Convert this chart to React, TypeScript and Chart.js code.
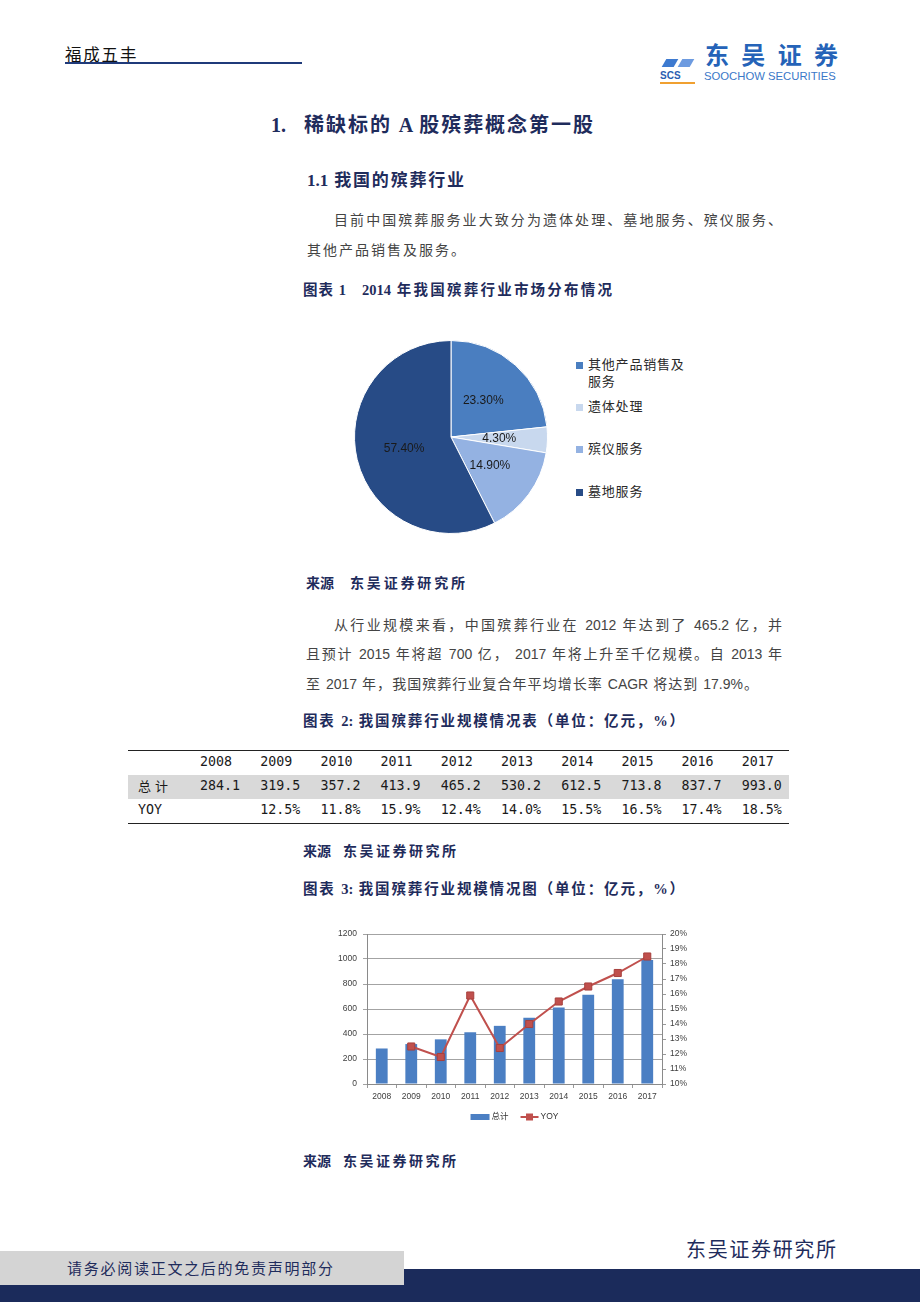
import React, { useEffect, useRef } from "react";
import { Chart, registerables } from "chart.js";

Chart.register(...registerables);

// ---------------- Data ----------------
const pieLabels = ["其他产品销售及服务", "遗体处理", "殡仪服务", "墓地服务"];
const pieLegendLines = [["其他产品销售及", "服务"], ["遗体处理"], ["殡仪服务"], ["墓地服务"]];
const pieValues = [23.3, 4.3, 14.9, 57.4];
const pieColors = ["#4a7ec0", "#c8d8ee", "#94b2e2", "#274b86"];

const years = ["2008", "2009", "2010", "2011", "2012", "2013", "2014", "2015", "2016", "2017"];
const totals = [284.1, 319.5, 357.2, 413.9, 465.2, 530.2, 612.5, 713.8, 837.7, 993.0];
const yoy: (number | null)[] = [null, 12.5, 11.8, 15.9, 12.4, 14.0, 15.5, 16.5, 17.4, 18.5];

const leftTicksMax = 1200;
const leftTicksStep = 200;
const rightMin = 10;
const rightMax = 20;

const barColor = "#4b7fc3";
const lineColor = "#c0504d";

// ---------------- Styles ----------------
const NAVY = "#1f2c5c";
const BODY = '"Liberation Sans", "Noto Sans CJK SC", sans-serif';
const SERIF = '"Liberation Serif", "Noto Sans CJK SC", serif';
const CJK = '"Noto Sans CJK SC", sans-serif';
const MONO = '"DejaVu Sans Mono", "Noto Sans CJK SC", monospace';

type TP = {
  x: number; y: number; w?: number; s: number; t: string;
  b?: boolean; c?: string; f?: string; ls?: number; j?: boolean;
};
function Txt({ x, y, w, s, t, b, c, f, ls, j }: TP) {
  const L = Math.round(s * 1.5);
  return (
    <div
      style={{
        position: "absolute",
        left: x,
        top: y - L / 2 - s * 0.05,
        width: w ?? "auto",
        height: L,
        lineHeight: L + "px",
        fontSize: s,
        fontWeight: b ? 700 : 400,
        color: c ?? "#404040",
        fontFamily: f ?? BODY,
        letterSpacing: ls ?? 0,
        textAlign: j ? "justify" : "left",
        textAlignLast: j ? "justify" : "auto",
        whiteSpace: j ? "normal" : "nowrap",
      } as React.CSSProperties}
    >
      {t}
    </div>
  );
}

function Rect({ x, y, w, h, c }: { x: number; y: number; w: number; h: number; c: string }) {
  return <div style={{ position: "absolute", left: x, top: y, width: w, height: h, background: c }} />;
}

// ---------------- Pie chart ----------------
function PieChart() {
  const ref = useRef<HTMLCanvasElement>(null);
  useEffect(() => {
    const labelPlugin = {
      id: "pieLabels",
      afterDatasetsDraw(chart: any) {
        const ctx = chart.ctx;
        const meta = chart.getDatasetMeta(0);
        ctx.save();
        ctx.font = '12px "Liberation Sans", Arial, sans-serif';
        ctx.fillStyle = "#1a1a1a";
        ctx.textAlign = "center";
        ctx.textBaseline = "middle";
        meta.data.forEach((arc: any, i: number) => {
          const p = arc.tooltipPosition(false);
          const v = chart.data.datasets[0].data[i] as number;
          ctx.fillText(v.toFixed(2) + "%", p.x, p.y);
        });
        ctx.restore();
      },
    };
    const chart = new Chart(ref.current as HTMLCanvasElement, {
      type: "pie",
      data: {
        labels: pieLabels,
        datasets: [
          {
            data: pieValues,
            backgroundColor: pieColors,
            borderColor: "#ffffff",
            borderWidth: 1,
          },
        ],
      },
      options: {
        responsive: false,
        animation: false,
        events: [],
        layout: { padding: 3 },
        plugins: { legend: { display: false }, tooltip: { enabled: false } },
      },
      plugins: [labelPlugin],
    } as any);
    return () => chart.destroy();
  }, []);
  return (
    <canvas
      ref={ref}
      width={200}
      height={200}
      style={{ position: "absolute", left: 351, top: 337, width: 200, height: 200 }}
    />
  );
}

function PieLegend() {
  const itemY = [365, 407, 449, 492];
  return (
    <>
      {pieLegendLines.map((lines, i) => (
        <React.Fragment key={i}>
          <Rect x={576} y={itemY[i] - 3.5} w={7} h={7} c={pieColors[i]} />
          {lines.map((ln, k) => (
            <Txt key={k} x={588} y={itemY[i] + k * 17} s={13} ls={0.8} t={ln} f={CJK} c="#2a2a2a" />
          ))}
        </React.Fragment>
      ))}
    </>
  );
}

// ---------------- Bar + line chart ----------------
function ComboChart() {
  const ref = useRef<HTMLCanvasElement>(null);
  useEffect(() => {
    const legendPlugin = {
      id: "customLegend",
      afterDraw(chart: any) {
        const { ctx, chartArea } = chart;
        const cy = chartArea.bottom + 33;
        const cx = (chartArea.left + chartArea.right) / 2;
        const lineDs = chart.data.datasets[0];
        const barDs = chart.data.datasets[1];
        ctx.save();
        ctx.font = '8.5px "Liberation Sans", "Noto Sans CJK SC", sans-serif';
        const t1 = barDs.label as string;
        const t2 = lineDs.label as string;
        const w1 = ctx.measureText(t1).width;
        const w2 = ctx.measureText(t2).width;
        const sw = 19, lw = 18, gap = 2, between = 12;
        const total = sw + gap + w1 + between + lw + gap + w2;
        let x = cx - total / 2;
        ctx.fillStyle = barColor;
        ctx.fillRect(x, cy - 3, sw, 6);
        x += sw + gap;
        ctx.fillStyle = "#333";
        ctx.textBaseline = "middle";
        ctx.textAlign = "left";
        ctx.fillText(t1, x, cy);
        x += w1 + between;
        ctx.strokeStyle = lineColor;
        ctx.lineWidth = 2;
        ctx.beginPath();
        ctx.moveTo(x, cy);
        ctx.lineTo(x + lw, cy);
        ctx.stroke();
        ctx.fillStyle = lineColor;
        ctx.fillRect(x + lw / 2 - 3.5, cy - 3.5, 7, 7);
        x += lw + gap;
        ctx.fillStyle = "#333";
        ctx.fillText(t2, x, cy);
        ctx.restore();
      },
    };
    const tickFont = { family: '"Liberation Sans", Arial, sans-serif', size: 8.5 };
    const chart = new Chart(ref.current as HTMLCanvasElement, {
      type: "bar",
      data: {
        labels: years,
        datasets: [
          {
            type: "line",
            label: "YOY",
            data: yoy,
            yAxisID: "y1",
            borderColor: lineColor,
            borderWidth: 2,
            pointStyle: "rect",
            pointRadius: 5,
            pointBackgroundColor: lineColor,
            pointBorderColor: "#a8403d",
            pointBorderWidth: 1,
            order: 0,
          },
          {
            type: "bar",
            label: "总计",
            data: totals,
            yAxisID: "y",
            backgroundColor: barColor,
            barPercentage: 0.4,
            categoryPercentage: 1,
            order: 1,
          },
        ],
      },
      options: {
        responsive: false,
        animation: false,
        events: [],
        layout: { padding: { top: 14, bottom: 24, left: 0, right: 0 } },
        plugins: { legend: { display: false }, tooltip: { enabled: false } },
        scales: {
          x: {
            grid: { drawOnChartArea: false, tickLength: 4, color: "#999", offset: true },
            border: { color: "#8a8a8a" },
            ticks: { font: tickFont, color: "#404040", padding: 4, maxRotation: 0 },
            afterFit: (s: any) => { s.height = 22; },
          },
          y: {
            position: "left",
            min: 0,
            max: leftTicksMax,
            ticks: {
              stepSize: leftTicksStep,
              font: tickFont,
              color: "#404040",
              padding: 6,
              callback: (v: any) => String(v),
            },
            grid: { color: "#a3a3a3", tickLength: 4 },
            border: { color: "#8a8a8a" },
            afterFit: (s: any) => { s.width = 47; },
          },
          y1: {
            position: "right",
            min: rightMin,
            max: rightMax,
            ticks: {
              stepSize: 1,
              font: tickFont,
              color: "#404040",
              padding: 4,
              callback: (v: any) => v + "%",
            },
            grid: { drawOnChartArea: false, tickLength: 4, color: "#999" },
            border: { color: "#8a8a8a" },
            afterFit: (s: any) => { s.width = 38; },
          },
        },
      },
      plugins: [legendPlugin],
    } as any);
    return () => chart.destroy();
  }, []);
  return (
    <canvas
      ref={ref}
      width={380}
      height={210}
      style={{ position: "absolute", left: 320, top: 920, width: 380, height: 210 }}
    />
  );
}

// ---------------- Table ----------------
function DataTable() {
  const colX = (i: number) => 200 + i * 60.2;
  return (
    <>
      <Rect x={128} y={750} w={661} h={1} c="#222" />
      <Rect x={128} y={775} w={661} h={24} c="#d9d9d9" />
      <Rect x={128} y={823} w={661} h={1} c="#222" />
      {years.map((yr, i) => (
        <Txt key={"h" + i} x={colX(i)} y={763} s={13.3} t={yr} f={MONO} c="#1a1a1a" />
      ))}
      <Txt x={138} y={787} s={13} ls={4} t="总计" f={CJK} c="#1a1a1a" />
      {totals.map((v, i) => (
        <Txt key={"t" + i} x={colX(i)} y={787} s={13.3} t={v.toFixed(1)} f={MONO} c="#1a1a1a" />
      ))}
      <Txt x={138} y={811} s={13.3} t="YOY" f={MONO} c="#1a1a1a" />
      {yoy.map((v, i) =>
        v === null ? null : (
          <Txt key={"y" + i} x={colX(i)} y={811} s={13.3} t={v.toFixed(1) + "%"} f={MONO} c="#1a1a1a" />
        )
      )}
    </>
  );
}

// ---------------- Page ----------------
export default function App() {
  return (
    <div
      style={{
        position: "absolute",
        left: 0,
        top: 0,
        width: 920,
        height: 1302,
        overflow: "hidden",
        background: "#ffffff",
      }}
    >
      {/* header */}
      <Txt x={65} y={55} s={16.5} ls={1.8} t="福成五丰" f={CJK} c="#111" />
      <Rect x={65} y={62} w={237} h={1.5} c="#1f3a7a" />
      {/* logo */}
      <div style={{ position: "absolute", left: 664, top: 59, width: 12, height: 8, background: "#3d7ad0", transform: "skewX(-30deg)" }} />
      <div style={{ position: "absolute", left: 680, top: 59, width: 12, height: 8, background: "#6d9be0", transform: "skewX(-30deg)" }} />
      <Txt x={660} y={76} w={35} s={10} b t="SCS" f={BODY} c="#2a5db0" j />
      <Rect x={660} y={82} w={35} h={2} c="#f0a030" />
      <Txt x={705} y={55} w={133} s={24} b t="东吴证券" f={CJK} c="#2563b8" j />
      <Txt x={704} y={77} s={11.3} t="SOOCHOW SECURITIES" f={BODY} c="#3a78c8" />

      {/* headings */}
      <Txt x={271} y={126} s={20} b t="1." f={SERIF} c={NAVY} />
      <Txt x={304} y={126} w={289} s={20} b t="稀缺标的 A 股殡葬概念第一股" f={SERIF} c={NAVY} j />
      <Txt x={307} y={182} w={157} s={17} b t="1.1 我国的殡葬行业" f={SERIF} c={NAVY} j />

      <Txt x={334} y={220} w={448} s={14} t="目前中国殡葬服务业大致分为遗体处理、墓地服务、殡仪服务、" f={CJK} c="#444" j />
      <Txt x={307} y={250} s={14} ls={2} t="其他产品销售及服务。" f={CJK} c="#444" />

      <Txt x={303} y={291} w={43} s={14.5} b t="图表 1" f={SERIF} c={NAVY} j />
      <Txt x={362} y={291} w={250} s={14.5} b t="2014 年我国殡葬行业市场分布情况" f={SERIF} c={NAVY} j />

      <PieChart />
      <PieLegend />

      <Txt x={306} y={584} w={28} s={14} b t="来源" f={SERIF} c={NAVY} j />
      <Txt x={350} y={584} w={115} s={14} b t="东吴证券研究所" f={SERIF} c={NAVY} j />

      <Txt x={334} y={626} w={448} s={14} t="从行业规模来看，中国殡葬行业在 2012 年达到了 465.2 亿，并" c="#444" j />
      <Txt x={306} y={655} w={476} s={14} t="且预计 2015 年将超 700 亿， 2017 年将上升至千亿规模。自 2013 年" c="#444" j />
      <Txt x={306} y={685} w={452} s={14} t="至 2017 年，我国殡葬行业复合年平均增长率 CAGR 将达到 17.9%。" c="#444" j />

      <Txt x={303} y={722} w={381} s={14.5} b t="图表 2: 我国殡葬行业规模情况表（单位：亿元，%）" f={SERIF} c={NAVY} j />

      <DataTable />

      <Txt x={303} y={852} w={28} s={14} b t="来源" f={SERIF} c={NAVY} j />
      <Txt x={343} y={852} w={113} s={14} b t="东吴证券研究所" f={SERIF} c={NAVY} j />

      <Txt x={303} y={890} w={381} s={14.5} b t="图表 3: 我国殡葬行业规模情况图（单位：亿元，%）" f={SERIF} c={NAVY} j />

      <ComboChart />

      <Txt x={303} y={1162} w={28} s={14} b t="来源" f={SERIF} c={NAVY} j />
      <Txt x={343} y={1162} w={113} s={14} b t="东吴证券研究所" f={SERIF} c={NAVY} j />

      {/* footer */}
      <Txt x={686} y={1250} w={150} s={20} t="东吴证券研究所" f={CJK} c={NAVY} j />
      <Rect x={0} y={1251} w={404} h={34} c="#d4d4d4" />
      <Rect x={404} y={1269} w={516} h={33} c="#1b2b5b" />
      <Rect x={0} y={1285} w={404} h={17} c="#1b2b5b" />
      <Txt x={67} y={1268} w={266} s={15} t="请务必阅读正文之后的免责声明部分" f={CJK} c={NAVY} j />
    </div>
  );
}
